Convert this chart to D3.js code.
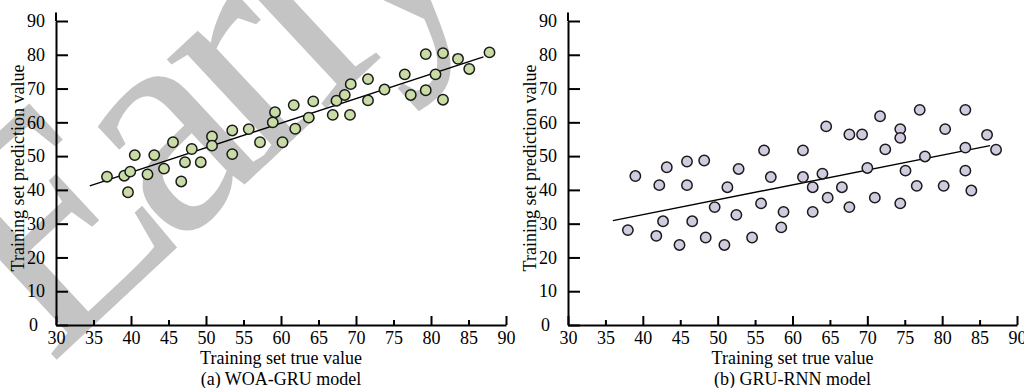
<!DOCTYPE html>
<html>
<head>
<meta charset="utf-8">
<script src="https://cdn.jsdelivr.net/npm/d3@7"></script>
<style>
    body { margin: 0; background: #fff; }
    svg text { font-family: "Liberation Serif", "Times New Roman", serif; }
</style>
</head>
<body>
<div id="chart"></div>
<script>
// ---- data ----
var xTicks = [30, 35, 40, 45, 50, 55, 60, 65, 70, 75, 80, 85, 90];
var yTicks = [0, 10, 20, 30, 40, 50, 60, 70, 80, 90];

// (a) WOA-GRU: true value, predicted value
var woaTrue = [36.8, 39.1, 39.9, 39.6, 40.5, 42.2, 43.1, 44.4, 45.6, 46.7, 47.2, 48.1,
    49.3, 50.8, 50.8, 53.5, 53.5, 55.7, 57.2, 58.9, 59.2, 60.2, 61.7, 61.9, 63.7, 64.3,
    66.9, 67.4, 68.5, 69.2, 69.3, 71.6, 71.6, 73.8, 76.5, 77.3, 79.3, 79.3, 80.6, 81.6,
    81.6, 83.6, 85.1, 87.8];
var woaPred = [43.9, 44.2, 45.4, 39.3, 50.3, 44.6, 50.3, 46.3, 54.1, 42.5, 48.2, 52.1,
    48.2, 55.8, 53.1, 57.6, 50.6, 58.0, 54.1, 60.0, 63.0, 54.1, 65.1, 58.1, 61.4, 66.2,
    62.2, 66.4, 68.1, 62.2, 71.3, 72.8, 66.5, 69.7, 74.2, 68.1, 80.2, 69.5, 74.2, 80.5,
    66.7, 78.8, 75.8, 80.7];
var woaFit = [[34.5, 41.2], [87.0, 79.4]];

// (b) GRU-RNN
var gruTrue = [38.0, 39.0, 41.8, 42.2, 42.7, 43.2, 44.9, 45.9, 45.9, 46.6, 48.2, 48.4,
    49.6, 50.9, 51.3, 52.5, 52.8, 54.6, 55.8, 56.2, 57.1, 58.5, 58.8, 61.4, 61.4, 62.7,
    62.7, 64.0, 64.5, 64.7, 66.6, 67.6, 67.6, 69.3, 70.0, 71.0, 71.7, 72.4, 74.4, 74.4,
    74.4, 75.1, 76.6, 77.0, 77.7, 80.2, 80.4, 83.1, 83.1, 83.1, 83.9, 86.0, 87.2];
var gruPred = [28.1, 44.1, 26.4, 41.4, 30.7, 46.7, 23.7, 48.4, 41.4, 30.7, 48.7, 25.9,
    34.9, 23.7, 40.8, 32.6, 46.2, 25.9, 36.0, 51.7, 43.8, 28.9, 33.5, 51.7, 43.8, 40.8,
    33.5, 44.8, 58.8, 37.7, 40.8, 56.4, 34.9, 56.4, 46.5, 37.7, 61.8, 52.0, 58.0, 55.4,
    36.0, 45.7, 41.2, 63.7, 49.9, 41.2, 58.0, 63.7, 52.5, 45.7, 39.8, 56.3, 51.9];
var gruFit = [[36.0, 30.9], [86.4, 53.1]];

var panels = [
    { left: 56, right: 506, xs: woaTrue, ys: woaPred, fit: woaFit, fill: "#c9dca6",
      caption: "(a) WOA-GRU model" },
    { left: 568, right: 1017, xs: gruTrue, ys: gruPred, fit: gruFit, fill: "#d2cadf",
      caption: "(b) GRU-RNN model" }
];

var width = 1024, height = 388;
var axisY = 325, topY = 21;

var svg = d3.select("#chart").append("svg")
    .attr("width", width)
    .attr("height", height);

// watermark behind everything
svg.append("text")
    .attr("transform", "translate(50,366) rotate(-43)")
    .style("font-size", "315px")
    .style("letter-spacing", "-22px")
    .attr("fill", "#c4c4c4")
    .text("Early");

panels.forEach(function(p) {
    var x = d3.scaleLinear().domain([30, 90]).range([p.left, p.right]);
    var y = d3.scaleLinear().domain([0, 90]).range([axisY, topY]);

    var g = svg.append("g");

    // fit line
    var line = d3.line()
        .x(function(d) { return x(d[0]); })
        .y(function(d) { return y(d[1]); });
    g.append("path")
        .datum(p.fit)
        .attr("d", line)
        .attr("fill", "none")
        .attr("stroke", "#000")
        .attr("stroke-width", 1.4);

    // points
    g.selectAll("circle")
        .data(p.xs)
        .enter().append("circle")
        .attr("cx", function(d) { return x(d); })
        .attr("cy", function(d, i) { return y(p.ys[i]); })
        .attr("r", 5.2)
        .attr("fill", p.fill)
        .attr("stroke", "#1a1a1a")
        .attr("stroke-width", 1.5);

    // x axis
    var xAxis = g.append("g")
        .attr("transform", "translate(0," + axisY + ")")
        .call(d3.axisBottom(x).tickValues(xTicks).tickSizeInner(-9).tickSizeOuter(0).tickPadding(6));
    xAxis.selectAll("line")
        .attr("y2", function(d) { return d % 10 === 0 ? -9 : -5; });

    // y axis
    var yAxis = g.append("g")
        .attr("transform", "translate(" + p.left + ",0)")
        .call(d3.axisLeft(y).tickValues(yTicks).tickSizeInner(-12).tickSizeOuter(0).tickPadding(11));
    yAxis.selectAll(".tick text")
        .attr("dx", function(d) { return d === 0 ? -7 : 0; });
    // axis line continues a little above the top tick
    yAxis.append("line")
        .attr("x1", 0).attr("x2", 0)
        .attr("y1", y(90)).attr("y2", y(92.5))
        .attr("stroke", "#000");

    [xAxis, yAxis].forEach(function(a) {
        a.selectAll("path, line").attr("stroke", "#000").attr("stroke-width", 2);
        a.selectAll("text").style("font-size", "18px").attr("fill", "#000");
    });

    // titles
    var cx = (p.left + p.right) / 2;
    g.append("text")
        .attr("x", cx).attr("y", 364)
        .attr("text-anchor", "middle")
        .style("font-size", "18px")
        .text("Training set true value");
    g.append("text")
        .attr("x", cx).attr("y", 385)
        .attr("text-anchor", "middle")
        .style("font-size", "18px")
        .text(p.caption);
    g.append("text")
        .attr("transform", "translate(" + (p.left - 32) + ",168) rotate(-90)")
        .attr("text-anchor", "middle")
        .style("font-size", "18px")
        .text("Training set prediction value");
});
</script>
</body>
</html>
